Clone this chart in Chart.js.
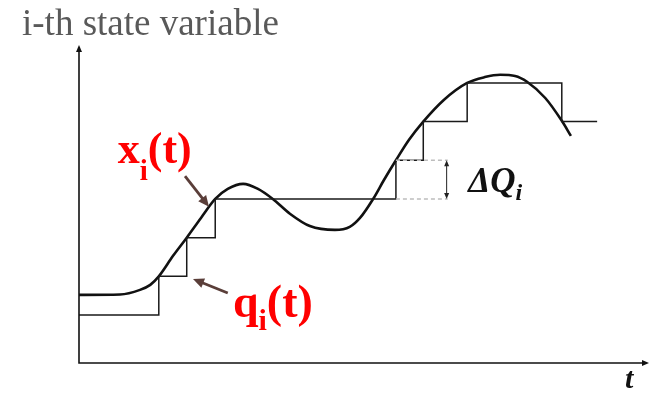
<!DOCTYPE html>
<html>
<head>
<meta charset="utf-8">
<script src="https://cdn.jsdelivr.net/npm/chart.js@4.4.1/dist/chart.umd.min.js"></script>
<style>
  html, body { margin: 0; padding: 0; background: #fff; }
  #wrap { width: 650px; height: 397px; }
</style>
</head>
<body>
<div id="wrap"><canvas id="qssChart" width="650" height="397"></canvas></div>
<script>
// x_i(t): continuous trajectory of the state variable
const stateTimes  = [0, 0.72, 1.07, 1.25, 1.40, 1.65, 1.89, 2.14, 2.39, 2.61, 2.88, 3.14, 3.40, 3.70, 4.05,
                     4.49, 4.75, 4.93, 5.16, 5.35, 5.56, 5.79, 6.04, 6.40, 6.81, 7.12, 7.39, 7.65, 7.86, 8.18, 8.47, 8.63];
const stateValues = [1.52, 1.53, 1.65, 1.78, 2.00, 2.53, 3.00, 3.51, 4.00, 4.26, 4.39, 4.26, 4.00, 3.62, 3.30,
                     3.20, 3.28, 3.51, 4.00, 4.49, 5.00, 5.53, 6.00, 6.56, 7.00, 7.15, 7.21, 7.18, 7.03, 6.61, 6.02, 5.63];

// q_i(t): quantized state, moves one quantum at a time
const quantTimes  = [0, 1.40, 1.89, 2.39, 5.56, 6.04, 6.81, 8.47, 9.09];
const quantLevels = [1, 2, 3, 4, 5, 6, 7, 6, 6];

// one quantum ΔQ, marked between two levels
const quantumBand  = [4, 5];
const quantumSpan  = [5.56, 6.47];
const quantumArrowT = 6.45;

// pointer arrows from the labels: [tailT, tailY, tipT, tipY]
const statePointer = [1.86, 4.59, 2.28, 3.80];
const quantPointer = [2.61, 1.57, 2.00, 1.93];

const toPoints = (ts, ys) => ts.map((t, i) => ({ x: t, y: ys[i] }));

function arrowHead(ctx, x, y, angle, len, half) {
    ctx.save();
    ctx.translate(x, y);
    ctx.rotate(angle);
    ctx.beginPath();
    ctx.moveTo(0, 0);
    ctx.lineTo(-len, -half);
    ctx.lineTo(-len, half);
    ctx.closePath();
    ctx.fill();
    ctx.restore();
}

function pointer(ctx, x0, y0, x1, y1, color) {
    const ang = Math.atan2(y1 - y0, x1 - x0);
    ctx.save();
    ctx.strokeStyle = color;
    ctx.fillStyle = color;
    ctx.lineWidth = 2.8;
    ctx.beginPath();
    ctx.moveTo(x0, y0);
    ctx.lineTo(x1 - 8 * Math.cos(ang), y1 - 8 * Math.sin(ang));
    ctx.stroke();
    arrowHead(ctx, x1, y1, ang, 11, 5);
    ctx.restore();
}

// text with a subscript, e.g. x_i(t)
function subText(ctx, x, y, main, sub, tail, font, subFont, drop) {
    ctx.font = font;
    ctx.fillText(main, x, y);
    x += ctx.measureText(main).width;
    ctx.font = subFont;
    ctx.fillText(sub, x, y + drop);
    x += ctx.measureText(sub).width;
    if (tail) {
        ctx.font = font;
        ctx.fillText(tail, x, y);
    }
}

const qssDecor = {
    id: 'qssDecor',
    afterDatasetsDraw(chart) {
        const ctx = chart.ctx;
        const a = chart.chartArea;
        const sx = chart.scales.x, sy = chart.scales.y;
        const px = v => sx.getPixelForValue(v);
        const py = v => sy.getPixelForValue(v);

        // axes with arrowheads
        ctx.save();
        ctx.strokeStyle = '#111';
        ctx.fillStyle = '#111';
        ctx.lineWidth = 1.6;
        ctx.beginPath();
        ctx.moveTo(a.left, a.top + 4);
        ctx.lineTo(a.left, a.bottom);
        ctx.lineTo(a.right - 4, a.bottom);
        ctx.stroke();
        arrowHead(ctx, a.left, a.top, -Math.PI / 2, 7, 3);
        arrowHead(ctx, a.right, a.bottom, 0, 7, 3);
        ctx.restore();

        // double arrow spanning one quantum
        ctx.save();
        ctx.strokeStyle = '#222';
        ctx.fillStyle = '#222';
        ctx.lineWidth = 1;
        const ax = px(quantumArrowT), yTop = py(quantumBand[1]), yBot = py(quantumBand[0]);
        ctx.beginPath();
        ctx.moveTo(ax, yTop + 4);
        ctx.lineTo(ax, yBot - 4);
        ctx.stroke();
        arrowHead(ctx, ax, yTop, -Math.PI / 2, 6, 2.5);
        arrowHead(ctx, ax, yBot, Math.PI / 2, 6, 2.5);
        ctx.restore();

        // label pointers
        const brown = '#5a3e39';
        pointer(ctx, px(statePointer[0]), py(statePointer[1]), px(statePointer[2]), py(statePointer[3]), brown);
        pointer(ctx, px(quantPointer[0]), py(quantPointer[1]), px(quantPointer[2]), py(quantPointer[3]), brown);

        ctx.save();
        ctx.textBaseline = 'alphabetic';
        ctx.textAlign = 'left';

        // y-axis caption
        ctx.fillStyle = '#595959';
        ctx.font = '37px "Liberation Serif"';
        ctx.fillText('i-th state variable', 22, 35);

        // curve labels
        ctx.fillStyle = '#ff0000';
        subText(ctx, px(0.68), py(4.93), 'x', 'i', '(t)',
            'bold 44px "Liberation Serif"', 'bold 29px "Liberation Serif"', 17);
        subText(ctx, px(2.70), py(0.95), 'q', 'i', '(t)',
            'bold 46px "Liberation Serif"', 'bold 30px "Liberation Serif"', 13);

        // quantum label
        ctx.fillStyle = '#111';
        subText(ctx, px(6.83), py(4.18), 'ΔQ', 'i', '',
            'bold italic 35px "Liberation Serif"', 'bold italic 24px "Liberation Serif"', 8);

        // time axis label
        ctx.font = 'bold italic 30px "Liberation Serif"';
        ctx.fillText('t', px(9.58), a.bottom + 25);
        ctx.restore();
    }
};

new Chart(document.getElementById('qssChart'), {
    type: 'line',
    data: {
        datasets: [
            {
                data: [{ x: quantumSpan[0], y: quantumBand[1] }, { x: quantumSpan[1], y: quantumBand[1] }],
                borderColor: '#bdbdbd',
                borderWidth: 1.5,
                borderDash: [4, 3],
                pointRadius: 0
            },
            {
                data: [{ x: quantumSpan[0], y: quantumBand[0] }, { x: quantumSpan[1], y: quantumBand[0] }],
                borderColor: '#bdbdbd',
                borderWidth: 1.5,
                borderDash: [4, 3],
                pointRadius: 0
            },
            {
                data: toPoints(quantTimes, quantLevels),
                borderColor: '#1a1a1a',
                borderWidth: 1.5,
                stepped: true,
                pointRadius: 0
            },
            {
                data: toPoints(stateTimes, stateValues),
                borderColor: '#111',
                borderWidth: 2.6,
                cubicInterpolationMode: 'monotone',
                pointRadius: 0
            }
        ]
    },
    options: {
        responsive: false,
        animation: false,
        devicePixelRatio: 1,
        layout: { padding: { left: 79, right: 1, top: 45, bottom: 34 } },
        plugins: { legend: { display: false }, tooltip: { enabled: false }, title: { display: false } },
        scales: {
            x: { type: 'linear', min: 0, max: 10, display: false },
            y: { type: 'linear', min: -0.24, max: 7.98, display: false }
        }
    },
    plugins: [qssDecor]
});
</script>
</body>
</html>
